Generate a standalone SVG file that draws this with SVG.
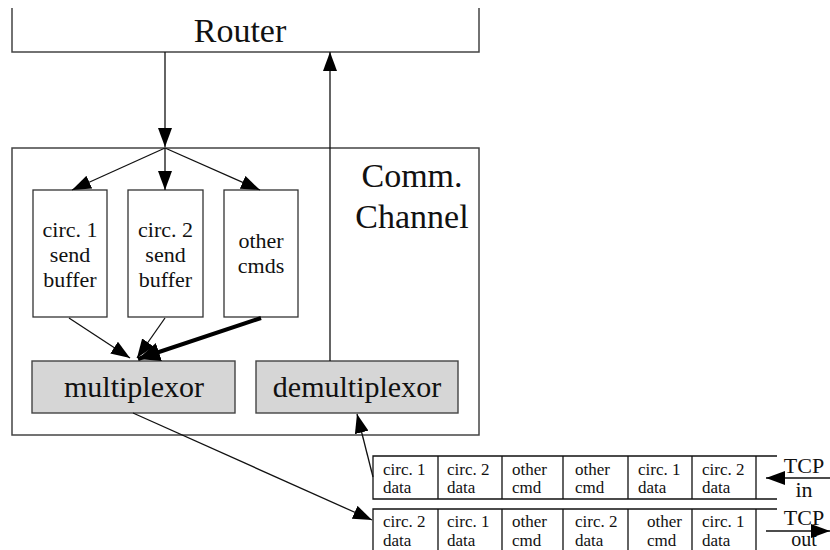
<svg xmlns="http://www.w3.org/2000/svg" width="830" height="550" viewBox="0 0 830 550">
<style>
text{font-family:"Liberation Serif","Times New Roman",serif;fill:#111}
.box{fill:#fff;stroke:#333;stroke-width:1.3}
.gray{fill:#d6d6d6;stroke:#444;stroke-width:1.4}
.frame{fill:none;stroke:#444;stroke-width:1.5}
.ln{fill:none;stroke:#111;stroke-width:1.3}
.cell{font-size:17px}
.mid{text-anchor:middle}
</style>
<defs>
<marker id="ah" markerUnits="userSpaceOnUse" markerWidth="20" markerHeight="14" refX="19" refY="7" orient="auto"><path d="M0,0 L19,7 L0,14 z" fill="#000"/></marker>
<marker id="ahb" markerUnits="userSpaceOnUse" markerWidth="23" markerHeight="19" refX="22" refY="9.5" orient="auto"><path d="M0,0 L22,9.5 L0,19 z" fill="#000"/></marker>
</defs>
<g id="router">
<path class="frame" d="M12,8 V52 H479 V8"/>
<text x="240" y="42" font-size="34" class="mid">Router</text>
</g>
<g id="comm-channel">
<rect class="frame" x="12" y="148" width="467" height="287"/>
<text x="412" y="187" font-size="34" class="mid">Comm.</text>
<text x="412" y="228" font-size="34" class="mid">Channel</text>
</g>
<g id="circ1-buffer">
<rect class="box" x="33" y="190" width="74" height="127"/>
<text x="70" y="237" font-size="22" class="mid">circ. 1</text>
<text x="70" y="262" font-size="22" class="mid">send</text>
<text x="70" y="287" font-size="22" class="mid">buffer</text>
</g>
<g id="circ2-buffer">
<rect class="box" x="128" y="190" width="75" height="127"/>
<text x="165.5" y="237" font-size="22" class="mid">circ. 2</text>
<text x="165.5" y="262" font-size="22" class="mid">send</text>
<text x="165.5" y="287" font-size="22" class="mid">buffer</text>
</g>
<g id="other-cmds">
<rect class="box" x="224" y="190" width="74" height="127"/>
<text x="261" y="248" font-size="22" class="mid">other</text>
<text x="261" y="273" font-size="22" class="mid">cmds</text>
</g>
<g id="multiplexor">
<rect class="gray" x="32" y="361" width="203" height="52"/>
<text x="134" y="397" font-size="30" class="mid">multiplexor</text>
</g>
<g id="demultiplexor">
<rect class="gray" x="256" y="361" width="202" height="52"/>
<text x="357" y="397" font-size="30" class="mid">demultiplexor</text>
</g>
<g id="tcp-in-queue">
<path class="ln" d="M777,456 H373 V499 H777 M438,456 V499 M502,456 V499 M563,456 V499 M628,456 V499 M692,456 V499 M756,456 V499"/>
<text class="cell" x="383" y="475">circ. 1</text><text class="cell" x="383" y="493">data</text>
<text class="cell" x="447" y="475">circ. 2</text><text class="cell" x="447" y="493">data</text>
<text class="cell" x="512" y="475">other</text><text class="cell" x="512" y="493">cmd</text>
<text class="cell" x="575" y="475">other</text><text class="cell" x="575" y="493">cmd</text>
<text class="cell" x="638" y="475">circ. 1</text><text class="cell" x="638" y="493">data</text>
<text class="cell" x="702" y="475">circ. 2</text><text class="cell" x="702" y="493">data</text>
<text x="804" y="473" font-size="22" class="mid">TCP</text>
<text x="804" y="497" font-size="22" class="mid">in</text>
</g>
<g id="tcp-out-queue">
<path class="ln" d="M777,509 H373 V560 M438,509 V560 M502,509 V560 M563,509 V560 M628,509 V560 M692,509 V560 M756,509 V560"/>
<text class="cell" x="383" y="527">circ. 2</text><text class="cell" x="383" y="546">data</text>
<text class="cell" x="447" y="527">circ. 1</text><text class="cell" x="447" y="546">data</text>
<text class="cell" x="512" y="527">other</text><text class="cell" x="512" y="546">cmd</text>
<text class="cell" x="575" y="527">circ. 2</text><text class="cell" x="575" y="546">data</text>
<text class="cell" x="647" y="527">other</text><text class="cell" x="647" y="546">cmd</text>
<text class="cell" x="702" y="527">circ. 1</text><text class="cell" x="702" y="546">data</text>
<text x="804" y="525" font-size="22" class="mid">TCP</text>
<text x="804" y="546" font-size="20" class="mid">out</text>
</g>
<g id="connectors">
<line class="ln" x1="165" y1="52" x2="165" y2="147" marker-end="url(#ah)"/>
<line class="ln" x1="165" y1="148" x2="72" y2="190" marker-end="url(#ah)"/>
<line class="ln" x1="165" y1="148" x2="165" y2="190" marker-end="url(#ah)"/>
<line class="ln" x1="165" y1="148" x2="260" y2="190" marker-end="url(#ah)"/>
<line class="ln" x1="69" y1="318" x2="130" y2="358" marker-end="url(#ah)"/>
<line class="ln" x1="165" y1="318" x2="137" y2="358" marker-end="url(#ah)"/>
<line fill="none" stroke="#000" stroke-width="4" x1="261" y1="318" x2="138" y2="359" marker-end="url(#ahb)"/>
<line class="ln" x1="330" y1="361" x2="330" y2="52" marker-end="url(#ah)"/>
<line class="ln" x1="133" y1="413" x2="372" y2="520" marker-end="url(#ah)"/>
<line class="ln" x1="373" y1="477" x2="357" y2="414" marker-end="url(#ah)"/>
<line class="ln" x1="830" y1="478" x2="766" y2="478" marker-end="url(#ah)"/>
<line class="ln" x1="766" y1="531" x2="830" y2="531" marker-end="url(#ah)"/>
</g>
</svg>
